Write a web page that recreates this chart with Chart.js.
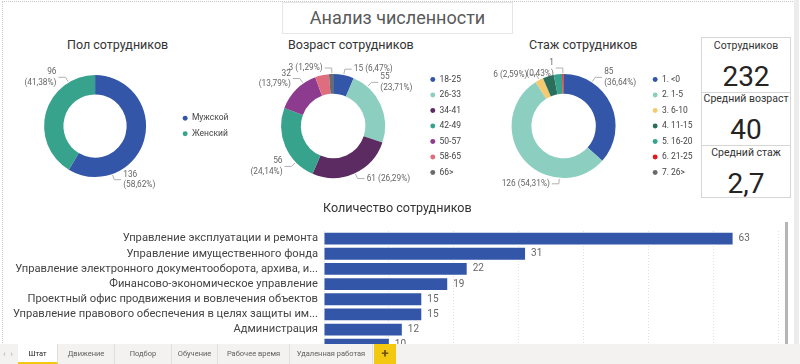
<!DOCTYPE html>
<html>
<head>
<meta charset="utf-8">
<script src="https://cdn.jsdelivr.net/npm/chart.js@4"></script>
<style>
body { margin: 0; width: 800px; height: 364px; overflow: hidden; background: #fff; position: relative; font-family: Roboto, "Noto Sans", sans-serif; }
.abs { position: absolute; }
.frame { left: 2px; top: 1px; width: 792px; height: 343px; border-top: 1px dotted #c8c8c8; border-left: 1px dotted #c8c8c8; }
.titlebox { left: 282px; top: 2px; width: 229px; height: 30px; border: 1px solid #e6e6e6; color: #595959; font-size: 18px; text-align: center; line-height: 30px; }
.dtitle { top: 37px; color: #333; font-size: 12.5px; white-space: nowrap; }
.card { left: 701px; width: 88px; border: 1px solid #d6d6d6; text-align: center; color: #333; white-space: nowrap; }
.card .lab { font-size: 10.5px; line-height: 14px; margin-top: 1px; }
.card .val { font-family: "Liberation Sans Narrow", Roboto, sans-serif; font-size: 28px; color: #252423; margin-top: 9px; line-height: 30px; }
.tabs { left: 0; top: 344px; width: 800px; height: 20px; background: #f3f2f1; }
.tab { top: 0; height: 20px; line-height: 20px; font-size: 7.5px; color: #605e5c; text-align: center; border-right: 1px solid #e1dfdd; box-sizing: border-box; white-space: nowrap; }
</style>
</head>
<body>

<div class="abs frame"></div>
<div class="abs titlebox">Анализ численности</div>

<div class="abs dtitle" style="left:67px">Пол сотрудников</div>
<div class="abs dtitle" style="left:288px">Возраст сотрудников</div>
<div class="abs dtitle" style="left:529px">Стаж сотрудников</div>

<div class="abs card" style="top:37px;height:54px"><div class="lab">Сотрудников</div><div class="val" id="kpi1"></div></div>
<div class="abs card" style="top:91px;height:54px;border-top:none"><div class="lab">Средний возраст</div><div class="val" id="kpi2"></div></div>
<div class="abs card" style="top:145px;height:52px;border-top:none"><div class="lab">Средний стаж</div><div class="val" id="kpi3"></div></div>

<div class="abs" style="left:0;top:48px;width:250px;height:160px"><canvas id="genderChart"></canvas></div>
<div class="abs" style="left:240px;top:48px;width:240px;height:160px"><canvas id="ageChart"></canvas></div>
<div class="abs" style="left:470px;top:48px;width:242px;height:160px"><canvas id="stageChart"></canvas></div>

<div class="abs" style="left:323px;top:200px;font-size:12.6px;color:#333">Количество сотрудников</div>
<div class="abs" style="left:0;top:215px;width:785px;height:129px;overflow:hidden">
  <div style="width:785px;height:150px"><canvas id="deptChart"></canvas></div>
</div>

<div class="abs" style="left:785px;top:222px;width:3px;height:122px;background:#b5b5b5"></div>
<div class="abs" style="left:794px;top:0;width:5px;height:344px;background:#ececec"></div>

<div class="abs tabs">
  <div class="abs" style="left:3px;top:0;font-size:9px;color:#b0b0b0;line-height:20px">‹&nbsp;&nbsp;›</div>
  <div class="abs tab" style="left:18px;width:40px;background:#fff;border-bottom:2px solid #f2c811;color:#252423">Штат</div>
  <div class="abs tab" style="left:58px;width:57px">Движение</div>
  <div class="abs tab" style="left:115px;width:57px">Подбор</div>
  <div class="abs tab" style="left:172px;width:46px">Обучение</div>
  <div class="abs tab" style="left:218px;width:72px">Рабочее время</div>
  <div class="abs tab" style="left:290px;width:83px">Удаленная работая</div>
  <div class="abs tab" style="left:374px;width:22px;background:#f2c811;color:#6b5200;font-size:13px;font-weight:bold;border:none">+</div>
</div>

<script>
// --- data ---
let genderLabels = ['Мужской', 'Женский']
let genderValues = [136, 96]

let ageLabels = ['18-25', '26-33', '34-41', '42-49', '50-57', '58-65', '66>']
let ageValues = [15, 55, 61, 56, 32, 10, 3]

let stageLabels = ['1. <0', '2. 1-5', '3. 6-10', '4. 11-15', '5. 16-20', '6. 21-25', '7. 26>']
let stageValues = [85, 126, 6, 8, 6, 1, 0]

let deptLabels = [
    'Управление эксплуатации и ремонта',
    'Управление имущественного фонда',
    'Управление электронного документооборота, архива, и...',
    'Финансово-экономическое управление',
    'Проектный офис продвижения и вовлечения объектов',
    'Управление правового обеспечения в целях защиты им...',
    'Администрация',
    ''
]
let deptValues = [63, 31, 22, 19, 15, 15, 12, 10]

let kpiValues = ['232', '40', '2,7']

document.getElementById('kpi1').innerHTML = kpiValues[0]
document.getElementById('kpi2').innerHTML = kpiValues[1]
document.getElementById('kpi3').innerHTML = kpiValues[2]

Chart.defaults.font.family = 'Roboto, "Noto Sans", sans-serif'
Chart.defaults.color = '#555'
Chart.defaults.animation = false

// labels with leader lines, Power BI style
const donutLabels = {
    id: 'donutLabels',
    afterDatasetsDraw(chart, args, opts) {
        let meta = chart.getDatasetMeta(0)
        let data = chart.data.datasets[0].data
        let total = data.reduce((a, b) => a + b, 0)
        let ctx = chart.ctx
        ctx.save()
        ctx.font = '8.3px Roboto'
        ctx.fillStyle = '#666'
        ctx.strokeStyle = '#b0b0b0'
        ctx.lineWidth = 1
        meta.data.forEach(function (arc, i) {
            let t = opts.at[i]
            if (t == null) return
            let a = arc.startAngle + t * (arc.endAngle - arc.startAngle)
            let r = arc.outerRadius
            let x0 = arc.x + Math.cos(a) * (r + 1), y0 = arc.y + Math.sin(a) * (r + 1)
            let x1 = arc.x + Math.cos(a) * (r + 6), y1 = arc.y + Math.sin(a) * (r + 6)
            let dir = Math.cos(a) >= 0 ? 1 : -1
            let x2 = x1 + dir * 7
            ctx.beginPath()
            ctx.moveTo(x0, y0); ctx.lineTo(x1, y1); ctx.lineTo(x2, y1)
            ctx.stroke()
            let pct = '(' + (data[i] / total * 100).toFixed(2).replace('.', ',') + '%)'
            ctx.textAlign = dir > 0 ? 'left' : 'right'
            ctx.textBaseline = 'middle'
            let tx = x2 + dir * 2
            if (opts.two[i]) {
                ctx.fillText(String(data[i]), tx, y1 - 5)
                ctx.fillText(pct, tx, y1 + 5.5)
            } else {
                ctx.fillText(data[i] + ' ' + pct, tx, y1)
            }
        })
        ctx.restore()
    }
}

function donut(id, labels, values, colors, radius, pad, at, two) {
    let canvs = document.getElementById(id).getContext('2d')
    return new Chart(canvs, {
        type: 'doughnut',
        data: {
            labels: labels,
            datasets: [{ data: values, backgroundColor: colors, borderWidth: 0 }]
        },
        options: {
            responsive: true,
            maintainAspectRatio: false,
            radius: radius,
            cutout: '62%',
            layout: { padding: pad },
            plugins: {
                legend: {
                    position: 'right',
                    labels: {
                        usePointStyle: true, pointStyle: 'circle',
                        boxWidth: 5, boxHeight: 3.5, padding: 7,
                        color: '#444', font: { size: 8.5 }
                    }
                },
                tooltip: { enabled: false },
                donutLabels: { at: at, two: two }
            }
        },
        plugins: [donutLabels]
    })
}

donut('genderChart', genderLabels, genderValues, ['#3356a8', '#37a38d'], 51,
    { left: 14.5, right: 11.5, top: 14, bottom: 18 }, [0.76, 0.79], [true, true])

donut('ageChart', ageLabels, ageValues,
    ['#3356a8', '#8ccfc0', '#5c2b62', '#37a38d', '#8d3b8e', '#e06d7e', '#6b6b6b'], 52,
    { left: 3, right: 9, top: 14, bottom: 18 },
    [0.5, 0.21, 0.49, 0.26, 0.7, null, 0.7], [false, true, false, true, true, false, false])

donut('stageChart', stageLabels, stageValues,
    ['#3356a8', '#8ccfc0', '#f3ca72', '#2a6e5b', '#37a38d', '#e4171b', '#6b6b6b'], 52,
    { left: 11.5, right: 9.5, top: 14, bottom: 18 },
    [0.25, 0.27, 0.5, null, null, 0.5, null], [true, false, false, false, false, true, false])

// bar chart
const barLabels = {
    id: 'barLabels',
    afterDatasetsDraw(chart) {
        let meta = chart.getDatasetMeta(0)
        let ctx = chart.ctx
        ctx.save()
        ctx.font = '10px Roboto'
        ctx.fillStyle = '#666'
        ctx.textBaseline = 'middle'
        meta.data.forEach(function (bar, i) {
            ctx.fillText(String(chart.data.datasets[0].data[i]), bar.x + 6, bar.y)
        })
        ctx.restore()
    }
}

let barCanvs = document.getElementById('deptChart').getContext('2d')
let deptChart = new Chart(barCanvs, {
    type: 'bar',
    data: {
        labels: deptLabels,
        datasets: [{
            data: deptValues,
            backgroundColor: '#3356a8',
            categoryPercentage: 1,
            barPercentage: 0.78
        }]
    },
    options: {
        indexAxis: 'y',
        responsive: true,
        maintainAspectRatio: false,
        layout: { padding: { top: 16, right: 7, left: 0, bottom: 0 } },
        scales: {
            x: {
                min: 0, max: 70,
                ticks: { display: false, stepSize: 10 },
                grid: { color: '#e0e0e0', drawTicks: false },
                border: { display: false, dash: [1, 2] }
            },
            y: {
                grid: { display: false, drawTicks: false },
                border: { display: false },
                ticks: { padding: 6, color: '#444', autoSkip: false, font: { size: 11.2 } },
                afterFit: function (scale) { scale.width = 324 }
            }
        },
        plugins: {
            legend: { display: false },
            tooltip: { enabled: false }
        }
    },
    plugins: [barLabels]
})
</script>
</body>
</html>
